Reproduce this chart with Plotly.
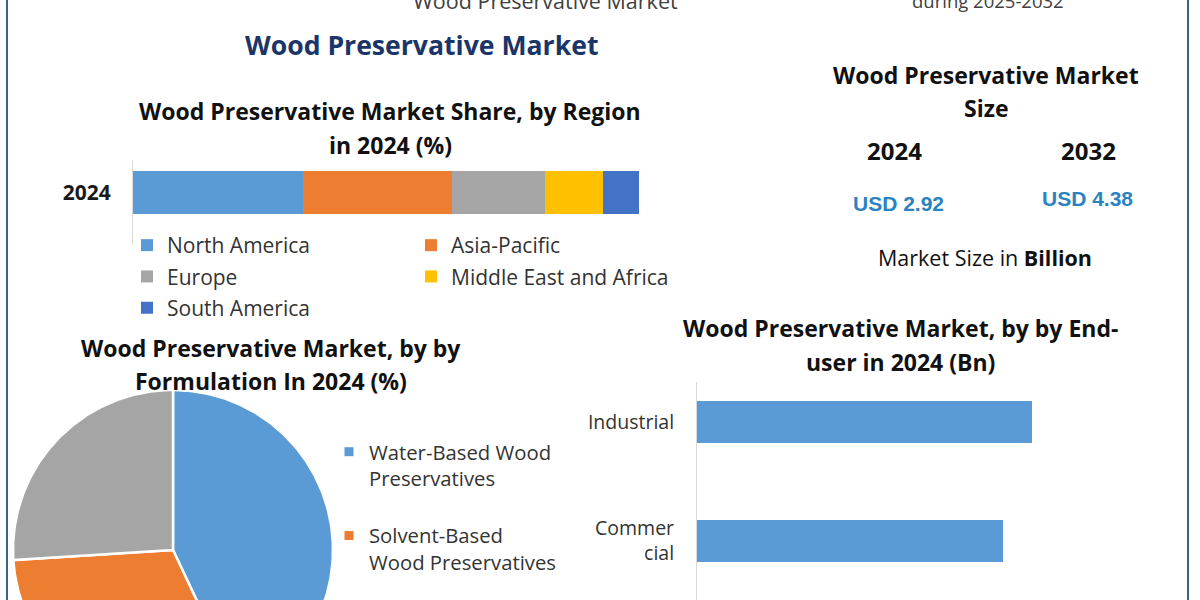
import numpy as np
import plotly.graph_objects as go

W, H = 1200, 600

# ---------------- data ----------------
region_names = ["North America", "Asia-Pacific", "Europe", "Middle East and Africa", "South America"]
region_share = [33.6, 29.5, 18.4, 11.3, 7.2]
region_colors = ["#5b9bd5", "#ed7d31", "#a5a5a5", "#ffc000", "#4472c4"]
region_legend = ["legend", "legend2", "legend", "legend2", "legend"]
region_year = "2024"

formulation_names = ["Water-Based Wood Preservatives", "Solvent-Based Wood Preservatives", "Oil-Based Wood Preservatives"]
formulation_legend_text = ["Water-Based Wood<br>Preservatives", "Solvent-Based<br>Wood Preservatives", "Oil-Based Wood<br>Preservatives"]
formulation_share = [43.0, 31.0, 26.0]
formulation_colors = ["#5b9bd5", "#ed7d31", "#a5a5a5"]
formulation_in_legend = [True, True, False]

enduser_categories = ["Commercial", "Industrial"]
enduser_tick_labels = ["Commer<br>cial", "Industrial"]
enduser_values = [1.14, 1.25]

size_years = ["2024", "2032"]
size_values = ["USD 2.92", "USD 4.38"]

FONT = "Open Sans, DejaVu Sans, sans-serif"
TXT = "#111111"
LEG = "#333333"


def px(x):
    return x / W


def py(y):
    return 1 - y / H


fig = go.Figure()

# ---------------- region stacked bar ----------------
for name, val, col, lg in zip(region_names, region_share, region_colors, region_legend):
    fig.add_trace(go.Bar(
        x=[val], y=[region_year], orientation="h", name=name,
        marker=dict(color=col, line=dict(width=0)), width=0.506,
        xaxis="x", yaxis="y", legend=lg, legendgroup=name,
        hovertemplate=name + ": %{x}%<extra></extra>",
    ))

# ---------------- end-user bars ----------------
fig.add_trace(go.Bar(
    x=enduser_values, y=enduser_categories, orientation="h",
    marker=dict(color="#5b9bd5", line=dict(width=0)), width=0.345,
    xaxis="x2", yaxis="y2", showlegend=False,
    hovertemplate="%{y}: %{x} Bn<extra></extra>",
))

# ---------------- formulation pie (wedges on an equal-scale axis pair) ----------------
fr = np.array(formulation_share) / np.sum(formulation_share)
starts = 90 - 360 * np.concatenate([[0], np.cumsum(fr)[:-1]])
for name, f, st, col, show, lt in zip(formulation_names, fr, starts, formulation_colors,
                                      formulation_in_legend, formulation_legend_text):
    th = np.radians(np.linspace(st, st - 360 * f, 200))
    xs = np.concatenate([[0], np.cos(th), [0]])
    ys = np.concatenate([[0], np.sin(th), [0]])
    fig.add_trace(go.Scatter(
        x=xs, y=ys, mode="lines", fill="toself", fillcolor=col,
        line=dict(color="white", width=2.5), xaxis="x3", yaxis="y3",
        showlegend=False, legendgroup=name, name=name,
        hoverinfo="text", text=f"{name}: {f*100:.0f}%",
    ))
    if show:
        fig.add_trace(go.Scatter(
            x=[None], y=[None], mode="markers", name=lt,
            marker=dict(symbol="square", size=9, color=col),
            xaxis="x3", yaxis="y3", legend="legend3", legendgroup=name,
        ))

# ---------------- layout ----------------
ax_off = dict(visible=False, fixedrange=True)
fig.update_layout(
    width=W, height=H, margin=dict(l=0, r=0, t=0, b=0),
    paper_bgcolor="white", plot_bgcolor="rgba(0,0,0,0)",
    barmode="stack", font=dict(family=FONT, color=TXT),
    xaxis=dict(domain=[px(133), px(639)], range=[0, 100], anchor="y", **ax_off),
    yaxis=dict(domain=[py(245), py(160)], range=[-0.618, 0.382], type="category", anchor="x",
               showline=True, linecolor="#d9d9d9", linewidth=1, ticks="",
               tickvals=[region_year], ticktext=["<b>" + region_year + "</b>"],
               tickfont=dict(size=21, color="#1a1a1a"), ticklabelstandoff=17,
               showgrid=False, zeroline=False, fixedrange=True),
    xaxis2=dict(domain=[px(697), px(1180)], range=[0, 1.8], anchor="y2", **ax_off),
    yaxis2=dict(domain=[py(600), py(382)], range=[-0.496, 1.336], type="category", anchor="x2",
                categoryorder="array", categoryarray=enduser_categories,
                tickvals=enduser_categories, ticktext=enduser_tick_labels,
                showline=True, linecolor="#d9d9d9", linewidth=1, ticks="",
                tickfont=dict(size=19.5, color=LEG), ticklabelstandoff=18,
                showgrid=False, zeroline=False, fixedrange=True),
    xaxis3=dict(domain=[0, 0.3], range=[-173 / 160, (360 - 173) / 160], anchor="y3", **ax_off),
    yaxis3=dict(domain=[0, py(390)], range=[-50 / 160, 1.0], anchor="x3", **ax_off),
    legend=dict(x=px(127), y=py(225), xanchor="left", yanchor="top",
                font=dict(size=21, color=LEG), bgcolor="rgba(0,0,0,0)",
                traceorder="grouped", tracegroupgap=1),
    legend2=dict(x=px(411), y=py(225), xanchor="left", yanchor="top",
                 font=dict(size=21, color=LEG), bgcolor="rgba(0,0,0,0)",
                 traceorder="grouped", tracegroupgap=1),
    legend3=dict(x=px(329), y=py(432), xanchor="left", yanchor="top",
                 font=dict(size=20.3, color=LEG), bgcolor="rgba(0,0,0,0)",
                 traceorder="grouped", tracegroupgap=28, valign="top"),
    showlegend=True,
)

# ---------------- texts ----------------
def note(text, x, y, size, color=TXT, bold=True, family=FONT, yanchor="middle"):
    fig.add_annotation(
        text=("<b>" + text + "</b>") if bold else text, x=px(x), y=py(y),
        xref="paper", yref="paper", showarrow=False, xanchor="center", yanchor=yanchor,
        font=dict(size=size, color=color, family=family),
    )

# header texts partly cut at the very top, as in the reference
note("Wood Preservative Market", 545, 0, 21.5, color="#404040", bold=False)
note("during 2025-2032", 988, 0, 18.5, color="#404040", bold=False)

note("Wood Preservative Market", 421, 45, 26.6, color="#1b3568")

note("Wood Preservative Market Share, by Region", 390, 111, 23)
note("in 2024 (%)", 390, 145, 23)

note("Wood Preservative Market, by by", 271, 348, 23)
note("Formulation In 2024 (%)", 271, 381, 23)

note("Wood Preservative Market, by by End-", 900, 328, 23)
note("user in 2024 (Bn)", 900, 362, 23)

note("Wood Preservative Market", 986, 75, 23)
note("Size", 986, 108, 23)
note(size_years[0], 894, 150, 24)
note(size_years[1], 1088, 150, 24)
note(size_values[0], 898, 203, 21, color="#2b82c0", family="Liberation Sans, Arial, sans-serif")
note(size_values[1], 1087, 198, 21, color="#2b82c0", family="Liberation Sans, Arial, sans-serif")
fig.add_annotation(text="Market Size in <b>Billion</b>", x=px(985), y=py(258), xref="paper", yref="paper",
                   showarrow=False, xanchor="center", yanchor="middle",
                   font=dict(size=21.5, color=TXT, family=FONT))

# frame borders
for xb in (7, 1188):
    fig.add_shape(type="line", xref="paper", yref="paper", x0=px(xb), x1=px(xb), y0=0, y1=1,
                  line=dict(color="#3d6380", width=2))

fig.write_html("out.html")
